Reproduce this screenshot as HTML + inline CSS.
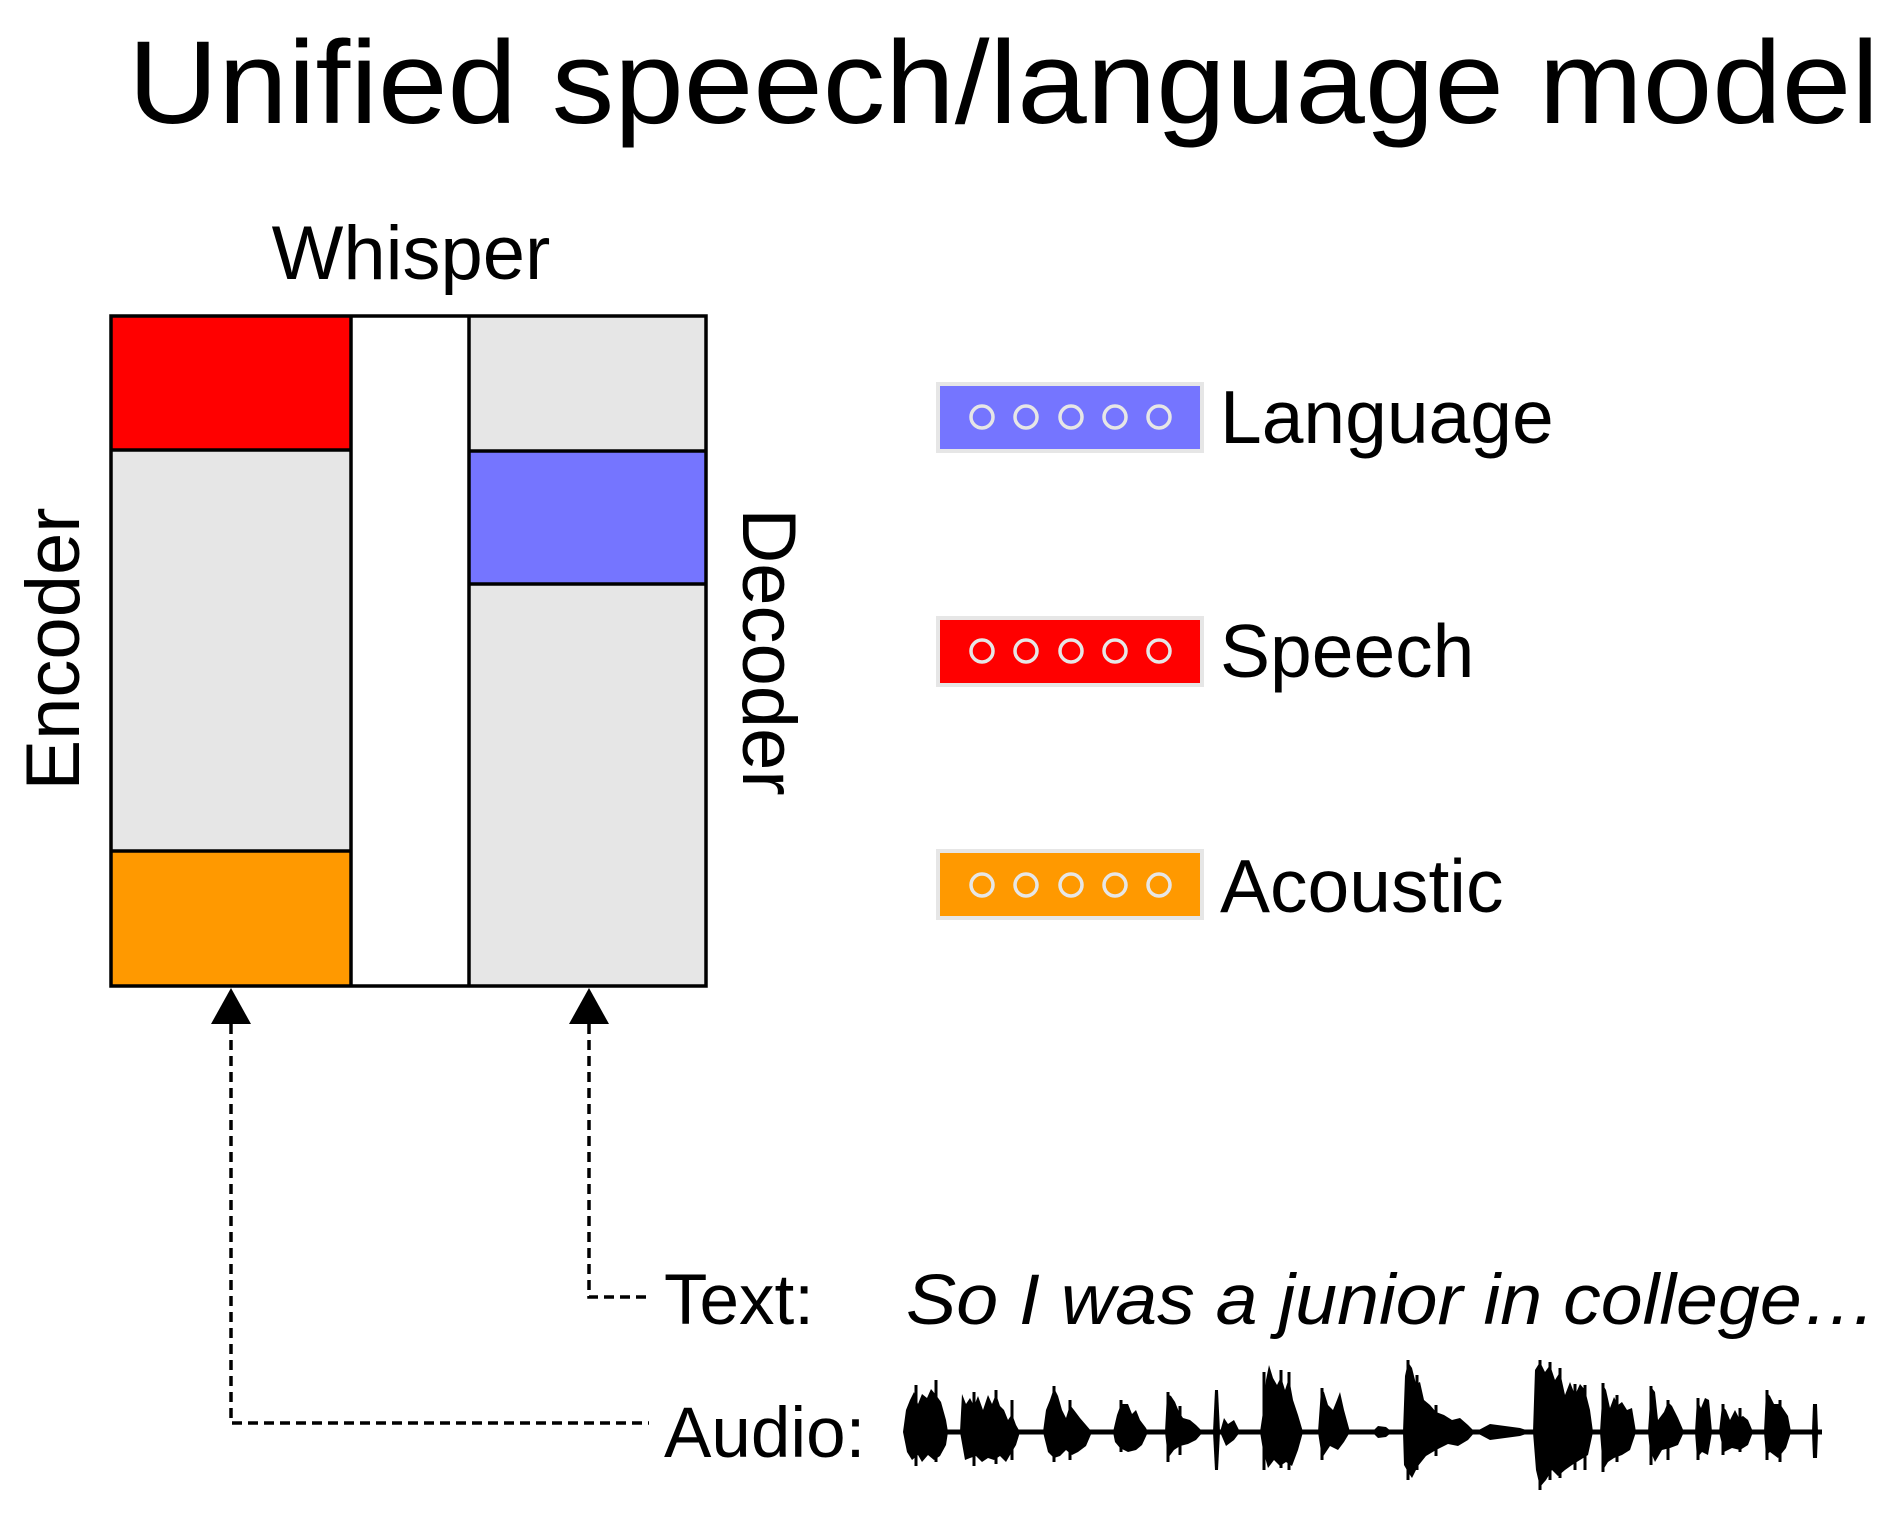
<!DOCTYPE html>
<html><head><meta charset="utf-8"><style>html,body{margin:0;padding:0;background:#fff}svg{display:block}</style></head>
<body>
<svg width="1897" height="1519" viewBox="0 0 1897 1519" xmlns="http://www.w3.org/2000/svg" font-family="Liberation Sans, Arial, sans-serif">
<rect width="1897" height="1519" fill="#fff"/>
<text x="128" y="123" font-size="118" textLength="1751" lengthAdjust="spacingAndGlyphs">Unified speech/language model</text>
<text x="411" y="279" font-size="76" text-anchor="middle">Whisper</text>
<rect x="111" y="316" width="240" height="670" fill="#e6e6e6"/>
<rect x="351" y="316" width="118" height="670" fill="#fff"/>
<rect x="469" y="316" width="237" height="670" fill="#e6e6e6"/>
<rect x="111" y="316" width="240" height="134" fill="#ff0000"/>
<rect x="111" y="851" width="240" height="135" fill="#ff9900"/>
<rect x="469" y="451" width="237" height="133" fill="#7575ff"/>
<g stroke="#000" stroke-width="3.5" fill="none">
<rect x="111" y="316" width="595" height="670"/>
<line x1="351" y1="316" x2="351" y2="986"/>
<line x1="469" y1="316" x2="469" y2="986"/>
<line x1="111" y1="450" x2="351" y2="450"/>
<line x1="111" y1="851" x2="351" y2="851"/>
<line x1="469" y1="451" x2="706" y2="451"/>
<line x1="469" y1="584" x2="706" y2="584"/>
</g>
<text transform="translate(79,649) rotate(-90)" font-size="76" text-anchor="middle">Encoder</text>
<text transform="translate(743,652) rotate(90)" font-size="76" text-anchor="middle">Decoder</text>
<g transform="translate(-6,0)">
<g stroke="#e6e6e6" stroke-width="4">
<rect x="944" y="384" width="264" height="67" fill="#7575ff"/>
<rect x="944" y="618" width="264" height="67" fill="#ff0000"/>
<rect x="944" y="851" width="264" height="67" fill="#ff9900"/>
<g fill="none" stroke-width="3.5">
<circle cx="988" cy="417" r="11"/><circle cx="1032" cy="417" r="11"/><circle cx="1077" cy="417" r="11"/><circle cx="1121" cy="417" r="11"/><circle cx="1165" cy="417" r="11"/>
<circle cx="988" cy="651" r="11"/><circle cx="1032" cy="651" r="11"/><circle cx="1077" cy="651" r="11"/><circle cx="1121" cy="651" r="11"/><circle cx="1165" cy="651" r="11"/>
<circle cx="988" cy="885" r="11"/><circle cx="1032" cy="885" r="11"/><circle cx="1077" cy="885" r="11"/><circle cx="1121" cy="885" r="11"/><circle cx="1165" cy="885" r="11"/>
</g></g>
<text x="1226" y="443" font-size="75">Language</text>
<text x="1226" y="677" font-size="75">Speech</text>
<text x="1226" y="912" font-size="75">Acoustic</text>
</g>
<g stroke="#000" stroke-width="3.5" fill="none" stroke-dasharray="10 6">
<polyline points="231,1024 231,1423 649,1423"/>
<polyline points="589,1024 589,1297 649,1297"/>
</g>
<polygon points="231,988 211,1024 251,1024" fill="#000"/>
<polygon points="589,988 569,1024 609,1024" fill="#000"/>
<text x="664" y="1324" font-size="71">Text:</text>
<text x="906" y="1324" font-size="71" font-style="italic" textLength="971" lengthAdjust="spacingAndGlyphs">So I was a junior in college…</text>
<text x="664" y="1457" font-size="71">Audio:</text>
<line x1="904" y1="1432" x2="1822" y2="1432" stroke="#000" stroke-width="5"/>
<g fill="#000">
<polygon points="903,1432 906,1410 910,1400 914,1392 918,1404 922,1394 927,1398 931,1389 936,1395 941,1402 946,1420 948,1432 946,1445 940,1456 934,1460 928,1455 922,1462 918,1455 912,1460 907,1452"/>
<polygon points="960,1432 962,1394 966,1404 970,1398 974,1406 978,1396 983,1410 988,1395 992,1404 996,1394 1000,1406 1004,1410 1008,1420 1012,1414 1016,1425 1020,1432 1016,1445 1010,1455 1006,1462 1000,1456 994,1460 988,1458 982,1462 976,1456 970,1458 965,1460"/>
<polygon points="1043,1432 1046,1410 1050,1400 1054,1388 1058,1396 1062,1410 1066,1418 1070,1405 1074,1410 1080,1418 1086,1425 1092,1432 1086,1446 1078,1452 1072,1455 1066,1450 1060,1456 1054,1458 1048,1452"/>
<polygon points="1113,1432 1117,1415 1121,1404 1128,1404 1132,1414 1136,1410 1140,1420 1146,1428 1148,1432 1142,1445 1136,1450 1128,1452 1120,1448 1115,1442"/>
<polygon points="1165,1432 1167,1394 1171,1396 1175,1402 1179,1412 1183,1418 1190,1420 1196,1425 1203,1432 1196,1440 1188,1444 1180,1446 1174,1450 1168,1458"/>
<polygon points="1213,1432 1215,1390 1218,1390 1220,1432 1218,1470 1215,1470"/>
<polygon points="1220,1432 1224,1418 1228,1424 1234,1420 1240,1432 1234,1440 1226,1446"/>
<polygon points="1260,1432 1263,1412 1266,1380 1269,1365 1273,1378 1277,1385 1281,1377 1285,1390 1289,1378 1293,1400 1298,1415 1303,1432 1298,1450 1292,1466 1286,1462 1280,1466 1274,1460 1268,1468 1263,1450"/>
<polygon points="1318,1432 1321,1390 1324,1392 1328,1405 1333,1410 1337,1400 1340,1392 1344,1410 1350,1432 1344,1442 1338,1450 1330,1446 1322,1458"/>
<polygon points="1372,1432 1378,1426 1386,1427 1392,1432 1386,1437 1378,1438"/>
<polygon points="1403,1432 1405,1376 1408,1362 1412,1368 1416,1384 1420,1382 1424,1400 1430,1405 1436,1412 1444,1415 1452,1420 1460,1418 1468,1425 1475,1432 1468,1440 1458,1446 1448,1444 1436,1450 1426,1456 1418,1466 1412,1478 1408,1472 1404,1465"/>
<polygon points="1475,1432 1490,1424 1505,1426 1520,1428 1532,1432 1520,1436 1505,1438 1490,1440"/>
<polygon points="1533,1432 1535,1370 1540,1362 1545,1372 1550,1365 1555,1380 1560,1372 1565,1395 1570,1382 1575,1395 1580,1384 1585,1390 1590,1410 1593,1432 1588,1455 1580,1460 1572,1465 1565,1470 1558,1476 1552,1470 1546,1480 1540,1487 1536,1470"/>
<polygon points="1600,1432 1603,1385 1606,1390 1610,1408 1614,1397 1618,1405 1622,1402 1627,1410 1632,1408 1636,1432 1630,1450 1622,1455 1614,1458 1608,1462 1603,1470"/>
<polygon points="1648,1432 1651,1387 1655,1392 1658,1420 1664,1412 1668,1402 1672,1406 1678,1418 1684,1432 1678,1445 1670,1448 1662,1450 1655,1462 1650,1450"/>
<polygon points="1695,1432 1697,1400 1701,1408 1705,1398 1709,1400 1712,1432 1708,1455 1702,1452 1697,1458"/>
<polygon points="1719,1432 1722,1406 1726,1410 1730,1420 1735,1410 1739,1418 1743,1416 1748,1420 1753,1432 1748,1445 1740,1450 1732,1448 1724,1452"/>
<polygon points="1764,1432 1766,1392 1770,1396 1774,1404 1780,1404 1784,1410 1788,1416 1791,1432 1786,1448 1778,1458 1770,1452 1766,1455"/>
<polygon points="1812,1432 1813,1404 1817,1404 1818,1432 1817,1458 1813,1458"/>
</g>
<g stroke="#000" stroke-width="3">
<path d="M916 1385V1466M936 1380V1462M974 1392V1466M996 1390V1464M1012 1400V1460M1054 1386V1462M1070 1400V1460M1121 1400V1452M1168 1392V1462M1180 1406V1455M1264 1372V1470M1281 1370V1468M1289 1372V1470M1322 1388V1460M1408 1360V1480M1417 1375V1470M1436 1405V1456M1540 1360V1490M1550 1362V1480M1560 1368V1478M1575 1384V1470M1585 1385V1470M1603 1383V1472M1617 1395V1462M1651 1386V1465M1668 1400V1460M1698 1398V1460M1723 1404V1455M1740 1408V1452M1767 1390V1460M1780 1400V1462"/>
</g>
</svg>
</body></html>
